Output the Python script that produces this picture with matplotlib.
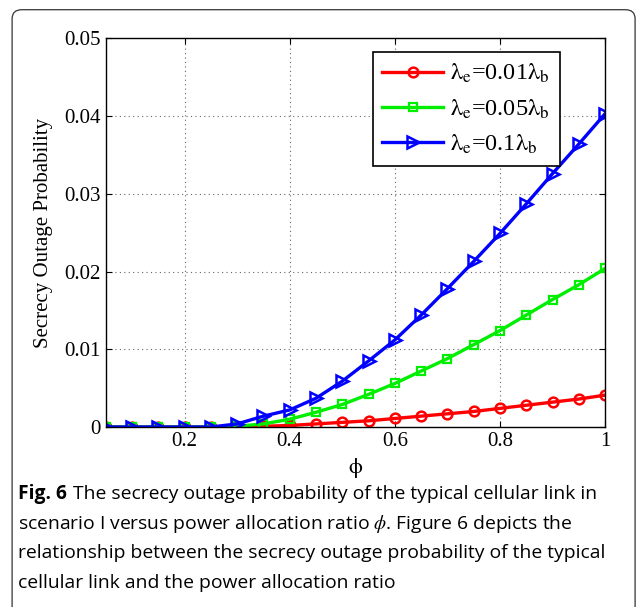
import numpy as np
import matplotlib.pyplot as plt
from matplotlib.patches import FancyBboxPatch

phi = np.arange(1, 21) * 0.05

# secrecy outage probability for each eavesdropper density
p_001 = [0, 0, 0, 0, 0, 0, 0.0001, 0.0002, 0.0004, 0.0006,
         0.0008, 0.0011, 0.0014, 0.0017, 0.0020, 0.0024, 0.0028, 0.0032, 0.0036, 0.0041]
p_005 = [0, 0, 0, 0, 0, 0.0001, 0.0004, 0.0010, 0.0019, 0.0029,
         0.0042, 0.0056, 0.0072, 0.0088, 0.0106, 0.0124, 0.0144, 0.0164, 0.0183, 0.0204]
p_01 = [0, 0, 0, 0, 0, 0.0004, 0.0014, 0.0022, 0.0037, 0.0059,
        0.0085, 0.0112, 0.0144, 0.0178, 0.0213, 0.0249, 0.0287, 0.0326, 0.0364, 0.0403]

labels = [r'$\mathrm{\lambda_{e}}$=0.01$\mathrm{\lambda_{b}}$',
          r'$\mathrm{\lambda_{e}}$=0.05$\mathrm{\lambda_{b}}$',
          r'$\mathrm{\lambda_{e}}$=0.1$\mathrm{\lambda_{b}}$']

caption = ["The secrecy outage probability of the typical cellular link in",
           "scenario I versus power allocation ratio $\\phi$. Figure 6 depicts the",
           "relationship between the secrecy outage probability of the typical",
           "cellular link and the power allocation ratio"]

plt.rcParams['font.family'] = 'Liberation Serif'
plt.rcParams['mathtext.fontset'] = 'stix'

fig = plt.figure(figsize=(6.37, 6.07), dpi=100)
fig.patches.append(FancyBboxPatch((0.019, -0.05), 0.978, 1.034,
                                  boxstyle='round,pad=0,rounding_size=0.015',
                                  transform=fig.transFigure, fill=False,
                                  edgecolor='#333333', linewidth=0.9))

ax = fig.add_axes([0.166, 0.2965, 0.784, 0.6405])
lw = 2.4
ax.plot(phi, p_001, '-o', color='red', lw=lw, ms=7, mfc='none', mew=1.8, label=labels[0])
ax.plot(phi, p_005, '-s', color='#00ee00', lw=lw, ms=5.5, mfc='none', mew=1.6, label=labels[1])
ax.plot(phi, p_01, '->', color='blue', lw=lw, ms=8.5, mfc='none', mew=1.8, label=labels[2])

ax.set_xlim(0.05, 1)
ax.set_ylim(0, 0.05)
ax.set_xticks([0.2, 0.4, 0.6, 0.8, 1])
ax.set_xticklabels(['0.2', '0.4', '0.6', '0.8', '1'])
ax.set_yticks([0, 0.01, 0.02, 0.03, 0.04, 0.05])
ax.set_yticklabels(['0', '0.01', '0.02', '0.03', '0.04', '0.05'])
ax.tick_params(direction='in', labelsize=15, top=True, right=True, length=4)
ax.grid(True, linestyle=(0, (1, 3)), color='#666666', linewidth=0.8)
for s in ax.spines.values():
    s.set_linewidth(1.0)

ax.set_xlabel(r'$\mathrm{\phi}$', fontsize=16, labelpad=4)
ax.set_ylabel('Secrecy Outage Probability', fontsize=15, labelpad=8)

leg = ax.legend(loc='upper left', bbox_to_anchor=(0.51, 0.995), fontsize=17.5,
                fancybox=False, framealpha=1, edgecolor='black',
                handlelength=2.5, borderpad=0.4, labelspacing=0.5, handletextpad=0.3)
leg.get_frame().set_linewidth(1.2)

y0 = 0.178
fs = 13.9
fig.text(0.029, y0, 'Fig. 6', fontsize=fs, fontweight='bold', family='Open Sans')
fig.text(0.029 + 0.086, y0, caption[0], fontsize=fs, family='Open Sans')
for i, line in enumerate(caption[1:], start=1):
    fig.text(0.029, y0 - i * 0.049, line, fontsize=fs, family='Open Sans')

fig.savefig('out.png', dpi=100)
